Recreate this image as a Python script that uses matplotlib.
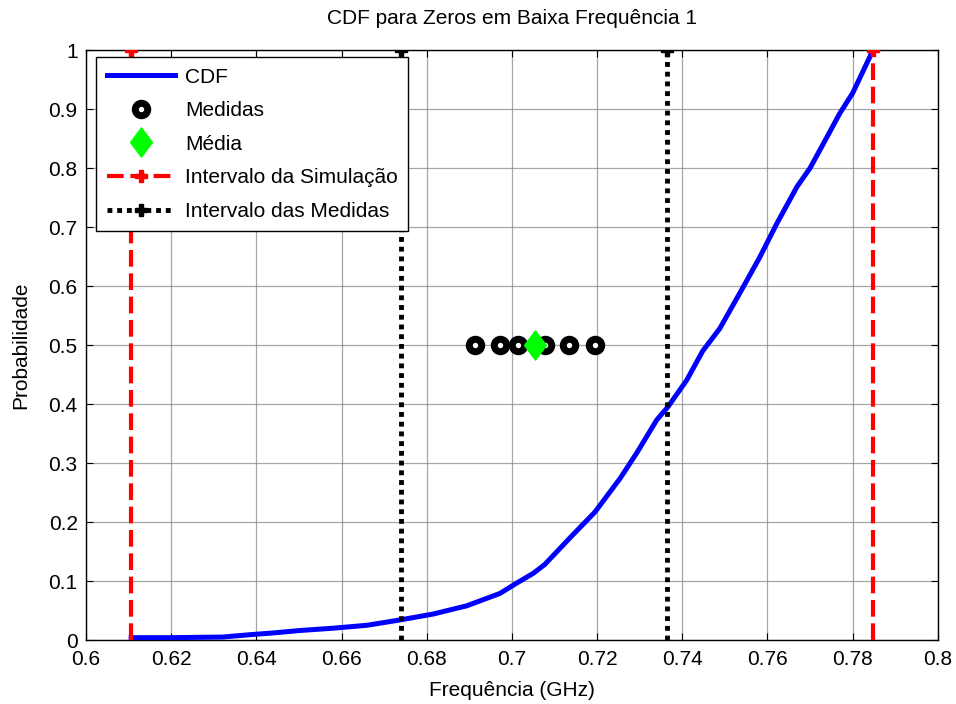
import matplotlib
matplotlib.use('Agg')
import matplotlib.pyplot as plt
from matplotlib.path import Path
from matplotlib.ticker import FuncFormatter, MultipleLocator

plt.rcParams['font.family'] = ['Liberation Sans', 'DejaVu Sans']

# CDF curve
cdf_x = [0.6106, 0.620, 0.632, 0.6385, 0.644, 0.650, 0.658, 0.666, 0.6737, 0.6815,
         0.6894, 0.6972, 0.701, 0.705, 0.7077, 0.7136, 0.7195, 0.7254, 0.7293, 0.734,
         0.7366, 0.741, 0.7448, 0.7488, 0.7535, 0.7582, 0.7622, 0.7669, 0.770, 0.774,
         0.777, 0.780, 0.784, 0.7847]
cdf_y = [0.004, 0.004, 0.005, 0.009, 0.012, 0.016, 0.020, 0.025, 0.034, 0.044,
         0.058, 0.079, 0.096, 0.113, 0.128, 0.173, 0.217, 0.274, 0.317, 0.373,
         0.395, 0.44, 0.49, 0.528, 0.588, 0.649, 0.706, 0.768, 0.80, 0.853,
         0.893, 0.927, 0.988, 1.0]

medidas = [0.6913, 0.6972, 0.7014, 0.7077, 0.7134, 0.7195]
media = 0.7054
sim_interval = [0.6106, 0.7847]
med_interval = [0.6739, 0.7364]

# matlab-like diamond (taller than wide)
diamond = Path([(0, 1), (0.75, 0), (0, -1), (-0.75, 0), (0, 1)],
               [Path.MOVETO, Path.LINETO, Path.LINETO, Path.LINETO, Path.CLOSEPOLY])

fs = 15

fig = plt.figure(figsize=(9.56, 7.04), dpi=100)
ax = fig.add_axes([0.09, 0.0909, 0.891, 0.838])

ax.grid(True, color='#808080', linewidth=0.9, alpha=0.7)
ax.set_axisbelow(True)

l1, = ax.plot(cdf_x, cdf_y, color='#0000ff', linewidth=3.6, label='CDF', zorder=3)
l2, = ax.plot(medidas, [0.5] * len(medidas), 'o', markersize=9, markeredgewidth=5,
              markeredgecolor='k', markerfacecolor='white', linestyle='none',
              label='Medidas', zorder=4)
l3, = ax.plot([media], [0.5], marker=diamond, markersize=21, color='#00ff00',
              markeredgecolor='#00ff00', linestyle='none', label='Média', zorder=5)
for xv in sim_interval:
    l4, = ax.plot([xv, xv], [0, 1], color='#ff0000', linewidth=3, dashes=[4, 1.6],
                  marker='P', markersize=8, markevery=[1], label='Intervalo da Simulação',
                  zorder=3)
for xv in med_interval:
    l5, = ax.plot([xv, xv], [0, 1], color='k', linewidth=3.5, dashes=[1, 1],
                  marker='P', markersize=8, markevery=[1], label='Intervalo das Medidas',
                  zorder=3)

ax.set_xlim(0.6, 0.8)
ax.set_ylim(0, 1)
ax.xaxis.set_major_locator(MultipleLocator(0.02))
ax.yaxis.set_major_locator(MultipleLocator(0.1))
ax.xaxis.set_major_formatter(FuncFormatter(lambda v, p: '%g' % round(v, 2)))
ax.yaxis.set_major_formatter(FuncFormatter(lambda v, p: '%g' % round(v, 1)))
ax.tick_params(direction='in', top=True, right=True, labelsize=fs, length=5)
ax.tick_params(axis='x', pad=7)
ax.tick_params(axis='y', pad=6)
for s in ax.spines.values():
    s.set_linewidth(1.0)

ax.set_xlabel('Frequência (GHz)', fontsize=fs, labelpad=9)
ax.set_ylabel('Probabilidade', fontsize=fs, labelpad=13)
ax.set_title('CDF para Zeros em Baixa Frequência 1', fontsize=fs, pad=19)

leg = ax.legend([l1, l2, l3, l4, l5],
                ['CDF', 'Medidas', 'Média', 'Intervalo da Simulação', 'Intervalo das Medidas'],
                loc='upper left', bbox_to_anchor=(0.012, 0.988), fontsize=fs,
                fancybox=False, framealpha=1, edgecolor='k', borderaxespad=0,
                handlelength=3.3, handletextpad=0.45, labelspacing=0.7,
                borderpad=0.5)
leg.get_frame().set_linewidth(1.0)

fig.savefig('out.png', dpi=100)
